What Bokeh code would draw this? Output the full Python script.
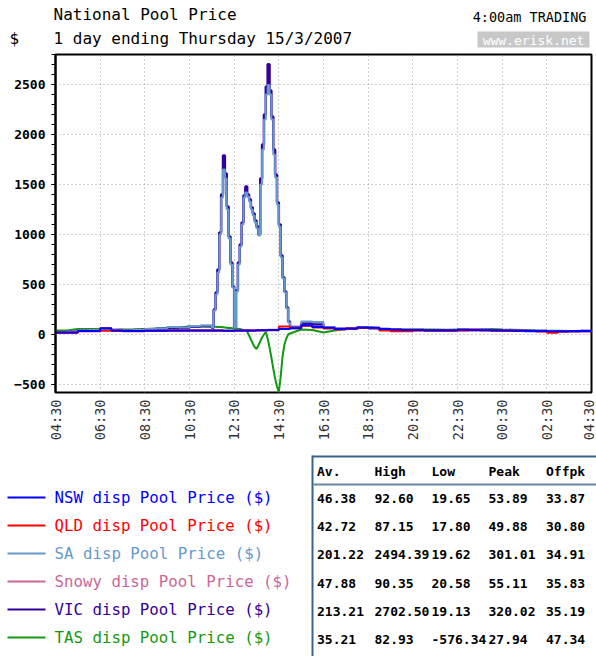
import math
from datetime import datetime, timedelta

from bokeh.plotting import figure
from bokeh.layouts import column
from bokeh.models import Range1d, FixedTicker, SingleIntervalTicker, DatetimeTickFormatter
from bokeh.core.properties import value
from bokeh.embed import file_html
from bokeh.resources import INLINE

# ---------------- data ----------------
title_line1 = "National Pool Price"
title_line2 = "1 day ending Thursday 15/3/2007"
unit_label = "$"
status_label = "4:00am TRADING"
source_label = "www.erisk.net"

x_tick_labels = ["04:30", "06:30", "08:30", "10:30", "12:30", "14:30", "16:30",
                 "18:30", "20:30", "22:30", "00:30", "02:30", "04:30"]

times_half = ["04:30", "05:00", "05:30", "06:00", "06:30", "07:00", "07:30", "08:00",
              "08:30", "09:00", "09:30", "10:00", "10:30", "11:00", "11:30", "12:00",
              "12:30", "13:00", "13:30", "14:00", "14:30", "15:00", "15:30", "16:00",
              "16:30", "17:00", "17:30", "18:00", "18:30", "19:00", "19:30", "20:00",
              "20:30", "21:00", "21:30", "22:00", "22:30", "23:00", "23:30", "00:00",
              "00:30", "01:00", "01:30", "02:00", "02:30", "03:00", "03:30", "04:00",
              "04:30"]

times_fine = ["04:30", "05:00", "05:30", "06:00", "06:30", "07:00", "07:30", "08:00",
              "08:30", "09:00", "09:30", "10:00", "10:30", "11:00", "11:30",
              "11:35", "11:40", "11:45", "11:50", "11:55",
              "12:00", "12:05", "12:10", "12:15", "12:20", "12:25",
              "12:30", "12:35", "12:40", "12:45", "12:50", "12:55",
              "13:00", "13:05", "13:10", "13:15", "13:20", "13:25",
              "13:30", "13:35", "13:40", "13:45", "13:50", "13:55",
              "14:00", "14:05", "14:10", "14:15", "14:20", "14:25",
              "14:30", "14:35", "14:40", "14:45", "14:50", "14:55",
              "15:00", "15:30", "16:00", "16:30", "17:00", "17:30", "18:00",
              "18:30", "19:00", "19:30", "20:00", "20:30", "21:00", "21:30",
              "22:00", "22:30", "23:00", "23:30", "00:00", "00:30", "01:00",
              "01:30", "02:00", "02:30", "03:00", "03:30", "04:00", "04:30"]

nsw = [19.65, 20, 35, 36, 62, 40, 35, 35, 38, 38, 40, 40, 40, 41, 40, 38,
       40, 40, 42, 45, 55, 62, 92.60, 75, 68, 55, 60, 70, 68, 55, 50, 46,
       45, 43, 42, 42, 48, 45, 42, 42, 40, 38, 36, 35, 32, 33, 34, 35, 35]

qld = [17.9, 18, 32, 33, 38, 35, 33, 33, 35, 35, 37, 37, 38, 38, 38, 36,
       38, 38, 40, 42, 80, 62, 87.15, 70, 60, 50, 58, 68, 65, 40, 32, 32,
       40, 40, 40, 38, 40, 42, 40, 40, 38, 36, 34, 30, 17.80, 30, 32, 33, 33]

snowy = [20.58, 21, 37, 38, 64, 42, 37, 37, 40, 40, 42, 42, 42, 43, 42, 40,
         42, 42, 44, 47, 58, 64, 90.35, 77, 70, 57, 62, 72, 70, 57, 52, 48,
         47, 45, 44, 44, 50, 55, 44, 44, 42, 40, 38, 37, 34, 35, 36, 37, 37]

sa = [19.62, 30, 40, 45, 55, 45, 40, 45, 55, 60, 75, 70, 85, 90, 70,
      240, 400, 620, 1000, 1370,
      1650, 1560, 1250, 960, 700, 470, 70, 430, 700, 880, 1100, 1370,
      1420, 1380, 1330, 1250, 1190, 1120, 1060, 990, 1500, 1850, 2150, 2400,
      2494.39, 2400, 2150, 1800, 1570, 1300, 1080, 770, 560, 420, 260, 120,
      70, 130, 125, 75, 60, 60, 70, 65, 55, 50, 45, 45, 42, 42, 42, 48,
      45, 52, 42, 40, 38, 36, 35, 32, 33, 34, 35, 35]

vic = [19.13, 28, 38, 42, 52, 44, 40, 44, 52, 58, 70, 68, 80, 85, 68,
       250, 420, 650, 1020, 1400,
       1790, 1610, 1280, 980, 720, 480, 75, 440, 720, 900, 1120, 1390,
       1480, 1400, 1350, 1270, 1210, 1140, 1080, 1000, 1560, 1900, 2200, 2480,
       2702.50, 2440, 2180, 1850, 1600, 1320, 1100, 790, 570, 430, 270, 130,
       75, 110, 100, 72, 58, 58, 68, 63, 53, 48, 44, 44, 41, 41, 41, 46,
       44, 50, 41, 39, 37, 35, 34, 31, 32, 33, 34, 34]

tas = [40, 40, 55, 55, 55, 45, 50, 50, 55, 60, 65, 65, 82.93, 80, 78,
       78, 78, 76, 76, 74,
       72, 70, 68, 66, 64, 62, 60, 60, 58, 55, 50, 45,
       42, 30, -10, -50, -90, -125, -145, -110, -70, -30, 0, 25,
       -40, -130, -230, -340, -440, -520, -576.34, -420, -220, -100, -40, 0,
       10, 50, 45, 20, 40, 55, 60, 75, 60, 55, 52, 50, 50, 50, 48, 50,
       52, 52, 55, 50, 48, 45, 40, 38, 38, 36, 36, 36]

series_names = ["NSW disp Pool Price ($)", "QLD disp Pool Price ($)",
                "SA disp Pool Price ($)", "Snowy disp Pool Price ($)",
                "VIC disp Pool Price ($)", "TAS disp Pool Price ($)"]
series_colors = ["#0000FF", "#FF0000", "#6699CC", "#CC6699", "#330099", "#129912"]

table_header = ["Av.", "High", "Low", "Peak", "Offpk"]
stat_av = [46.38, 42.72, 201.22, 47.88, 213.21, 35.21]
stat_high = [92.60, 87.15, 2494.39, 90.35, 2702.50, 82.93]
stat_low = [19.65, 17.80, 19.62, 20.58, 19.13, -576.34]
stat_peak = [53.89, 49.88, 301.01, 55.11, 320.02, 27.94]
stat_offpk = [33.87, 30.80, 34.91, 35.83, 35.19, 47.34]

# ---------------- helpers ----------------
BASE_DAY = datetime(2007, 3, 14)


def to_dt(labels):
    out, day, prev = [], 0, None
    for s in labels:
        h, m = map(int, s.split(":"))
        mins = h * 60 + m
        if prev is not None and mins <= prev:
            day += 1
        prev = mins
        out.append(BASE_DAY + timedelta(days=day, minutes=mins))
    return out


EPOCH = datetime(1970, 1, 1)


def ms(d):
    return (d - EPOCH).total_seconds() * 1000.0


FONT = value("DejaVu Sans Mono")
W = 596
H_HDR = 52
H_CHART = 402
H_BOT = 202


def blank(h):
    f = figure(width=W, height=h, x_range=Range1d(0, W), y_range=Range1d(h, 0),
               x_axis_location=None, y_axis_location=None, toolbar_location=None,
               output_backend="svg", min_border=0, frame_align=False)
    f.outline_line_color = None
    f.grid.visible = False
    f.background_fill_color = "white"
    f.border_fill_color = "white"
    return f


# ---------------- header ----------------
hdr = blank(H_HDR)
hdr.text(x=[53], y=[14], text=[title_line1], text_font=FONT, text_font_size="16px",
         text_color="black", text_baseline="middle", text_align="left")
hdr.text(x=[53], y=[38], text=[title_line2], text_font=FONT, text_font_size="16px",
         text_color="black", text_baseline="middle", text_align="left")
hdr.text(x=[9], y=[38], text=[unit_label], text_font=FONT, text_font_size="16px",
         text_color="black", text_baseline="middle", text_align="left")
hdr.text(x=[586], y=[16], text=[status_label], text_font=FONT, text_font_size="13.5px",
         text_color="black", text_baseline="middle", text_align="right")
hdr.quad(left=[477], right=[589], top=[31], bottom=[47], fill_color="#C8C8C8", line_color=None)
hdr.text(x=[533], y=[39.5], text=[source_label], text_font=FONT, text_font_size="13px",
         text_color="white", text_baseline="middle", text_align="center")

# ---------------- chart ----------------
tick_dts = to_dt(x_tick_labels)
p = figure(width=W, height=H_CHART, x_axis_type="datetime",
           x_range=Range1d(tick_dts[0], tick_dts[-1]), y_range=Range1d(-580, 2800),
           toolbar_location=None, output_backend="svg", frame_align=False,
           min_border_left=55, min_border_right=5, min_border_top=2, min_border_bottom=62)
p.background_fill_color = "white"
p.border_fill_color = "white"
p.outline_line_color = "black"
p.outline_line_width = 2

p.xaxis.ticker = FixedTicker(ticks=[ms(d) for d in tick_dts])
fmt = "%H:%M"
p.xaxis.formatter = DatetimeTickFormatter(microseconds=fmt, milliseconds=fmt, seconds=fmt,
                                          minsec=fmt, minutes=fmt, hourmin=fmt, hours=fmt,
                                          days=fmt, months=fmt, years=fmt)
p.xaxis.major_label_orientation = math.pi / 2
p.xaxis.major_label_text_font = "DejaVu Sans Mono"
p.xaxis.major_label_text_font_size = "13.5px"
p.xaxis.major_label_text_color = "#333333"
p.xaxis.major_tick_out = 0
p.xaxis.major_tick_in = 0
p.xaxis.minor_tick_out = 0
p.xaxis.major_label_standoff = 7
p.xaxis.axis_line_color = None

p.yaxis.ticker = SingleIntervalTicker(interval=500, num_minor_ticks=5)
p.yaxis.major_label_text_font = "DejaVu Sans Mono"
p.yaxis.major_label_text_font_size = "13px"
p.yaxis.major_label_text_font_style = "bold"
p.yaxis.major_label_text_color = "black"
p.yaxis.major_tick_out = 4
p.yaxis.major_tick_in = 0
p.yaxis.minor_tick_out = 4
p.yaxis.minor_tick_in = 0
p.yaxis.major_tick_line_color = "black"
p.yaxis.minor_tick_line_color = "black"
p.yaxis.major_label_standoff = 6
p.yaxis.axis_line_color = "black"
p.yaxis.axis_line_width = 2

p.grid.grid_line_color = "#A0A0A0"
p.grid.grid_line_dash = "1 3"
p.grid.grid_line_width = 1

t_half = to_dt(times_half)
t_fine = to_dt(times_fine)

p.line(t_fine, tas, line_color=series_colors[5], line_width=2)
p.step(t_fine, vic, mode="after", line_color=series_colors[4], line_width=2.5)
p.step(t_fine, sa, mode="after", line_color=series_colors[2], line_width=2)
p.step(t_half, snowy, mode="after", line_color=series_colors[3], line_width=2)
p.step(t_half, qld, mode="after", line_color=series_colors[1], line_width=2)
p.step(t_half, nsw, mode="after", line_color=series_colors[0], line_width=2)

# ---------------- legend + stats table ----------------
b = blank(H_BOT)

row_y = [43 + 28 * i for i in range(len(series_names))]
b.segment(x0=[7] * len(row_y), x1=[45] * len(row_y), y0=row_y, y1=row_y,
          line_color=series_colors, line_width=2)
b.text(x=[54] * len(row_y), y=row_y, text=series_names, text_color=series_colors,
       text_font=FONT, text_font_size="15.75px", text_baseline="middle", text_align="left")

# table frame
b.segment(x0=[312, 312], x1=[W, 312], y0=[2, 1], y1=[2, H_BOT],
          line_color="#3B6288", line_width=2)
b.segment(x0=[313], x1=[W], y0=[30], y1=[30], line_color="#6A87A6", line_width=2)

col_x = [316.5, 374, 431, 488, 545.5]
b.text(x=col_x, y=[17] * len(col_x), text=table_header, text_font=FONT,
       text_font_size="13px", text_font_style="bold", text_color="black",
       text_baseline="middle", text_align="left")
table_rows_y = [44 + 28.2 * i for i in range(len(stat_av))]
for cx, col in zip(col_x, [stat_av, stat_high, stat_low, stat_peak, stat_offpk]):
    b.text(x=[cx] * len(col), y=table_rows_y, text=["%.2f" % v for v in col],
           text_font=FONT, text_font_size="13px", text_font_style="bold",
           text_color="black", text_baseline="middle", text_align="left")

layout = column(hdr, p, b)
open("out.html", "w").write(file_html(layout, INLINE))
